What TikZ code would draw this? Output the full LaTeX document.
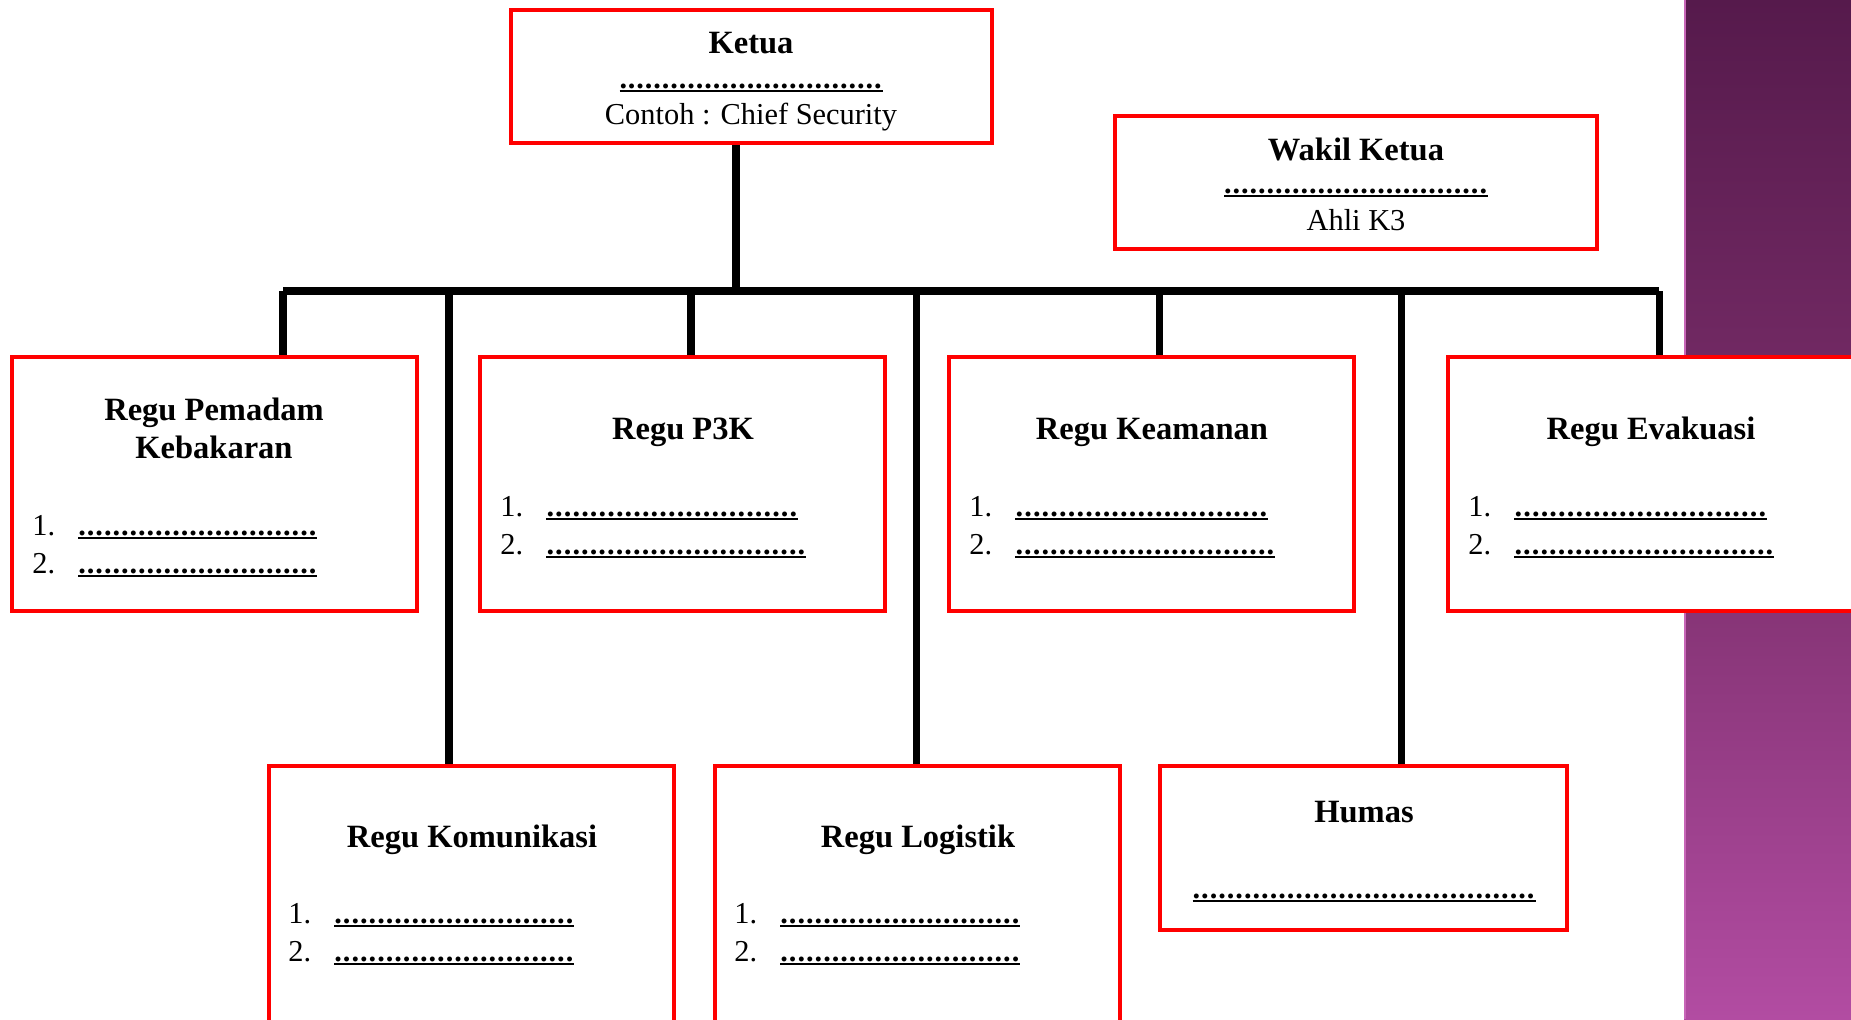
\documentclass[tikz,border=0pt]{standalone}
\usepackage{fontspec}
\setmainfont{Liberation Serif}
\usetikzlibrary{calc}
\definecolor{SlideTop}{HTML}{561A4C}
\definecolor{SlideMid}{HTML}{7C2F6C}
\definecolor{SlideBot}{HTML}{B24CA2}
\definecolor{SlideEdge}{HTML}{C866B8}

\newdimen\pxu \pxu=0.02cm
\newcommand{\teksfont}{\fontsize{17.3}{20}\selectfont}
\newcommand{\judulfont}{\fontsize{18.5}{22}\selectfont\bfseries}
\newcommand{\isian}[1]{\rlap{\rule[-2.1pt]{#1\pxu}{1.1pt}}\hbox to #1\pxu{\bfseries\xleaders\hbox{.\kern0.5pt}\hfill}}

\begin{document}
\begin{tikzpicture}[
    x=0.02cm, y=-0.02cm,
    kotak/.style={draw=red, line width=2.2pt, fill=white, anchor=north west, inner sep=0pt, minimum width=8.1cm},
    garis/.style={line width=4pt},
    judul/.style={anchor=base, inner sep=0pt, font=\judulfont},
    teks/.style={anchor=base, inner sep=0pt, font=\teksfont},
    isi/.style={anchor=base west, inner sep=0pt, font=\teksfont}
 ]
\useasboundingbox (0,0) rectangle (1851,1019);
\clip (0,0) rectangle (1851,1019);

% latar ungu
\shade[top color=SlideTop, bottom color=SlideBot, middle color=SlideMid] (1684,0) rectangle (1851,1019);
\draw[SlideEdge, line width=0.8pt] (1685,0) -- (1685,1019);

% kotak
\node[kotak, minimum width=9.62cm, minimum height=2.66cm] (ketua) at (509,8) {};
\node[kotak, minimum width=9.64cm, minimum height=2.66cm] (wakil) at (1113,114) {};
\node[kotak, minimum height=5.08cm] (pemadam) at (10,355) {};
\node[kotak, minimum height=5.08cm] (p3k) at (478,355) {};
\node[kotak, minimum height=5.08cm] (keamanan) at (947,355) {};
\node[kotak, minimum height=5.08cm] (evakuasi) at (1446,355) {};
\node[kotak, minimum height=6cm] (komunikasi) at (267,764) {};
\node[kotak, minimum height=6cm] (logistik) at (713,764) {};
\node[kotak, minimum width=8.14cm, minimum height=3.28cm] (humas) at (1158,764) {};

% garis
\coordinate (jKetua) at (736,291);
\draw[garis] (jKetua |- ketua.south) -- (jKetua);
\foreach \nm/\x in {pemadam/283, komunikasi/449, p3k/691, logistik/916, keamanan/1159, humas/1401, evakuasi/1659} {
    \coordinate (j-\nm) at (\x,291);
    \draw[garis] (j-\nm) -- (j-\nm |- \nm.north);
}
\draw[garis] (j-pemadam) -- (j-evakuasi);

% teks
\node[judul] (tKetua) at (751,53) {Ketua};
\node[teks] (dKetua) at (751,88) {\isian{263}};
\node[teks] (cKetua) at (751,124) {Contoh : Chief Security};
\node[judul] (tWakil) at (1356,160) {Wakil Ketua};
\node[teks] (dWakil) at (1356,193) {\isian{264}};
\node[teks] (cWakil) at (1356,230) {Ahli K3};
\node[judul] (tPemadam1) at (214,420) {Regu Pemadam};
\node[judul] (tPemadam2) at (214,458) {Kebakaran};
\node[judul] (tP3k) at (683,439) {Regu P3K};
\node[judul] (tKeamanan) at (1152,439) {Regu Keamanan};
\node[judul] (tEvakuasi) at (1651,439) {Regu Evakuasi};
\node[judul] (tKomunikasi) at (472,847) {Regu Komunikasi};
\node[judul] (tLogistik) at (918,847) {Regu Logistik};
\node[judul] (tHumas) at (1364,822) {Humas};
\node[teks] (dHumas) at (1364,898) {\isian{343}};

\foreach \nm/\nx/\ny/\wa/\wb in {pemadam/32/535/239/239, p3k/500/516/252/260, keamanan/969/516/253/260, evakuasi/1468/516/253/260, komunikasi/288/923/240/240, logistik/734/923/240/240} {
    \node[isi] (\nm-n1) at (\nx,\ny) {1.};
    \node[isi] (\nm-d1) at (\nx+46,\ny) {\isian{\wa}};
    \node[isi] (\nm-n2) at (\nx,\ny+38) {2.};
    \node[isi] (\nm-d2) at (\nx+46,\ny+38) {\isian{\wb}};
}

\end{tikzpicture}
\end{document}
